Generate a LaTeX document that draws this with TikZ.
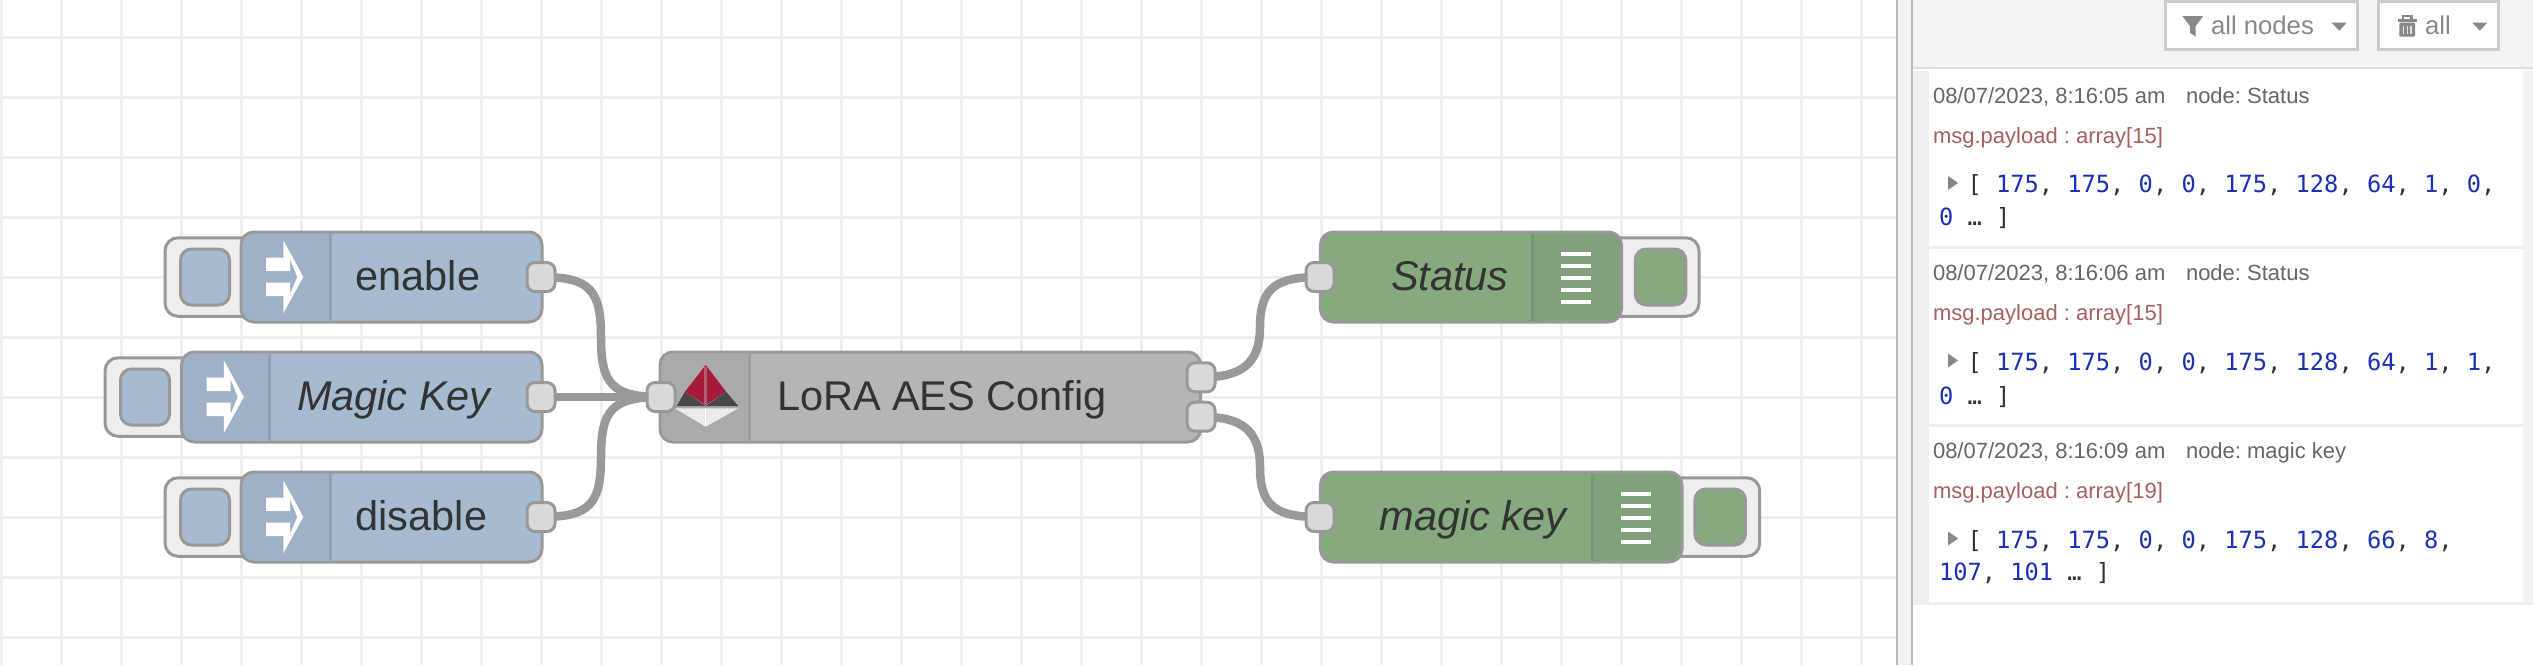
\documentclass[tikz,border=0pt]{standalone}
\usepackage{fontspec}
\setmainfont{Liberation Sans}
\setmonofont{DejaVu Sans Mono}
\frenchspacing
\pgfdeclarelayer{gridlayer}
\pgfdeclarelayer{wirelayer}
\pgfsetlayers{gridlayer,wirelayer,main}
\definecolor{gridc}{HTML}{EEEEEE}
\definecolor{strokec}{HTML}{999999}
\definecolor{portc}{HTML}{D9D9D9}
\definecolor{blueN}{HTML}{A6BBCF}
\definecolor{blueI}{HTML}{9EB1C5}
\definecolor{blueD}{HTML}{8D9FB1}
\definecolor{greenN}{HTML}{87A980}
\definecolor{greenI}{HTML}{81A17A}
\definecolor{greenD}{HTML}{769871}
\definecolor{greyN}{HTML}{B6B4B5}
\definecolor{greyI}{HTML}{ABA9AA}
\definecolor{greyD}{HTML}{9E9C9D}
\definecolor{panelc}{HTML}{F3F3F3}
\definecolor{textc}{HTML}{333333}
\definecolor{metac}{HTML}{666666}
\definecolor{namec}{HTML}{A66060}
\definecolor{numc}{HTML}{1C2FB8}
\definecolor{btnc}{HTML}{888888}
\definecolor{redI}{HTML}{A51A3A}
\tikzset{
  flowbox/.style={draw=strokec,line width=3pt,rounded corners=13pt,inner sep=0pt,outer sep=0pt},
  tabouter/.style={draw=strokec,line width=3pt,fill=gridc,rounded corners=13pt,inner sep=0pt,outer sep=0pt},
  tabinner/.style={draw=strokec,line width=3pt,rounded corners=11pt,inner sep=0pt,outer sep=0pt},
  portbox/.style={draw=strokec,line width=3pt,fill=portc,rounded corners=8pt,minimum width=28pt,minimum height=29pt,inner sep=0pt,outer sep=0pt},
  wire/.style={draw=strokec,line width=8.5pt},
  nlabel/.style={anchor=base west,inner sep=0pt,outer sep=0pt,text=textc,font=\fontsize{41.5}{48}\selectfont},
  ilabel/.style={nlabel,font=\fontsize{41.5}{48}\selectfont\itshape},
  meta/.style={anchor=base west,inner sep=0pt,outer sep=0pt,text=metac,font=\fontsize{22}{26}\selectfont},
  msgname/.style={anchor=base west,inner sep=0pt,outer sep=0pt,text=namec,font=\fontsize{22}{26}\selectfont},
  arr/.style={anchor=base west,inner sep=0pt,outer sep=0pt,text=textc,font=\ttfamily\fontsize{23.7}{28}\selectfont},
  btn/.style={draw=black!20,line width=3pt,fill=white,inner sep=0pt,outer sep=0pt},
  btntext/.style={anchor=base west,inner sep=0pt,outer sep=0pt,text=btnc,font=\fontsize{25.7}{30}\selectfont},
}
% name, x0, x1, yc, fill
\newcommand{\flowbox}[5]{\node[flowbox,fill=#5,minimum width={(#3-#2)*1pt},minimum height=90pt] (#1) at ({(#2+#3)/2},#4) {};}
% icon band at the left: x0, xdiv, yc, fill, divider
\newcommand{\iconleft}[5]{%
  \fill[#4,rounded corners=11.5pt] (#2,#3-43.5) -- (#1+1.5,#3-43.5) -- (#1+1.5,#3+43.5) -- (#2,#3+43.5) -- cycle;
  \fill[#4] (#2-14,#3-43.5) rectangle (#2,#3+43.5);
  \draw[#5,line width=3pt] (#2,#3-43.5) -- (#2,#3+43.5);}
\newcommand{\iconright}[5]{%
  \fill[#4,rounded corners=11.5pt] (#2,#3-43.5) -- (#1-1.5,#3-43.5) -- (#1-1.5,#3+43.5) -- (#2,#3+43.5) -- cycle;
  \fill[#4] (#2,#3-43.5) rectangle (#2+14,#3+43.5);
  \draw[#5,line width=3pt] (#2,#3-43.5) -- (#2,#3+43.5);}
% inject arrow: x0 of the node, yc
\newcommand{\injectarrow}[2]{%
  \fill[white] (#1+42.3,#2-37) -- (#1+62.3,#2) -- (#1+42.3,#2+36.3) -- (#1+42.3,#2+19) -- (#1+25,#2+19)
   -- (#1+25,#2+5.7) -- (#1+49,#2+5.7) -- (#1+49,#2+17.3) -- (#1+56.3,#2) -- (#1+49,#2-18)
   -- (#1+49,#2-6) -- (#1+25,#2-6) -- (#1+25,#2-19.3) -- (#1+42.3,#2-19.3) -- cycle;}
% list icon: xleft, yc
\newcommand{\listicon}[2]{%
  \foreach \dy in {-24,-12,0,12,24} {\fill[white] (#1,#2+\dy-2.1) rectangle (#1+30.4,#2+\dy+2.1);}}
\newcommand{\arrnum}[1]{\textcolor{numc}{#1}}
\begin{document}
\begin{tikzpicture}[x=1pt,y=-1pt]
\useasboundingbox (0,0) rectangle (2533,665);
% canvas grid
\begin{pgfonlayer}{gridlayer}
\fill[white] (0,0) rectangle (2533,665);
\foreach \gx in {0,...,31} {\draw[gridc,line width=3pt] ({1.5+60*\gx},0) -- ({1.5+60*\gx},665);}
\foreach \gy in {0,...,10} {\draw[gridc,line width=3pt] (0,{37+60*\gy}) -- (1896,{37+60*\gy});}
\end{pgfonlayer}
% panel
\fill[white] (1912,0) rectangle (2533,665);
\fill[panelc] (1896.5,0) rectangle (1912,665);
\draw[black!27,line width=2pt] (1896.5,0) -- (1896.5,665);
\draw[black!27,line width=2pt] (1912,0) -- (1912,665);
\fill[panelc] (1913,0) rectangle (2533,67.5);
\draw[black!13,line width=2.5pt] (1913,68) -- (2533,68);
\fill[gridc] (1913,70.5) rectangle (1929,603);
\fill[panelc] (2523,70.5) rectangle (2533,603);
\foreach \sy in {247,425} {\draw[gridc,line width=3pt] (1929,\sy) -- (2523,\sy);}
\draw[gridc,line width=3pt] (1913,603) -- (2533,603);
% toolbar buttons
\node[btn,minimum width=191.5pt,minimum height=48.3pt] (bnodes) at (2261.5,25.8) {};
\node[btn,minimum width=119.3pt,minimum height=48.3pt] (ball) at (2438.6,25.8) {};
\fill[btnc] (2182.3,16) -- (2203.3,16) -- (2195.7,26) -- (2195.7,36.7) -- (2190,32.7) -- (2190,26) -- cycle;
\node[btntext] (tnodes) at (2211,34.3) {all nodes};
\fill[btnc] (2331.7,22.7) -- (2346.7,22.7) -- (2339.2,30.7) -- cycle;
\fill[btnc] (2401.7,15) rectangle (2412.7,18.5);
\fill[white] (2404,16.5) rectangle (2410.4,18.5);
\fill[btnc] (2397.7,18.5) rectangle (2416.7,21.7);
\fill[btnc,rounded corners=1pt] (2399.3,22.7) rectangle (2415,36.7);
\foreach \tx in {2403.5,2407.2,2410.9} {\draw[white!75!btnc,line width=1.2pt] (\tx,25.5) -- (\tx,34);}
\node[btntext] (tall) at (2425,34.3) {all};
\fill[btnc] (2472.3,22.7) -- (2487.3,22.7) -- (2479.8,30.7) -- cycle;
% debug messages
\node[meta] (m1a) at (1933,103) {08/07/2023, 8:16:05 am};
\node[meta] (m1b) at (2186,103) {node: Status};
\node[msgname] (m1c) at (1933,143) {msg.payload : array[15]};
\fill[btnc] (1948,176) -- (1958,183) -- (1948,190) -- cycle;
\node[arr] (m1d) at (1967.5,192) {[ \arrnum{175}, \arrnum{175}, \arrnum{0}, \arrnum{0}, \arrnum{175}, \arrnum{128}, \arrnum{64}, \arrnum{1}, \arrnum{0},};
\node[arr] (m1e) at (1939,225.7) {\arrnum{0} … ]};
\node[meta] (m2a) at (1933,280) {08/07/2023, 8:16:06 am};
\node[meta] (m2b) at (2186,280) {node: Status};
\node[msgname] (m2c) at (1933,320.7) {msg.payload : array[15]};
\fill[btnc] (1948,353.5) -- (1958,360.5) -- (1948,367.5) -- cycle;
\node[arr] (m2d) at (1967.5,370) {[ \arrnum{175}, \arrnum{175}, \arrnum{0}, \arrnum{0}, \arrnum{175}, \arrnum{128}, \arrnum{64}, \arrnum{1}, \arrnum{1},};
\node[arr] (m2e) at (1939,404) {\arrnum{0} … ]};
\node[meta] (m3a) at (1933,458) {08/07/2023, 8:16:09 am};
\node[meta] (m3b) at (2186,458) {node: magic key};
\node[msgname] (m3c) at (1933,498) {msg.payload : array[19]};
\fill[btnc] (1948,531.5) -- (1958,538.5) -- (1948,545.5) -- cycle;
\node[arr] (m3d) at (1967.5,548) {[ \arrnum{175}, \arrnum{175}, \arrnum{0}, \arrnum{0}, \arrnum{175}, \arrnum{128}, \arrnum{66}, \arrnum{8},};
\node[arr] (m3e) at (1939,580.7) {\arrnum{107}, \arrnum{101} … ]};
% inject: enable
\node[tabouter,minimum width=100pt,minimum height=78.5pt] (te) at (215,277) {};
\flowbox{ne}{241}{542}{277}{blueN}
\iconleft{241}{330.4}{277}{blueI}{blueD}
\injectarrow{241}{277}
\node[tabinner,fill=blueN,minimum width=49pt,minimum height=56pt] (ie) at (205,277) {};
\node[nlabel] (le) at (355.6,290) {enable};
\node[portbox] (pe) at (541,277) {};
% inject: Magic Key
\node[tabouter,minimum width=100pt,minimum height=78.5pt] (tk) at (155,397) {};
\flowbox{nk}{181.5}{542}{397}{blueN}
\iconleft{181.5}{269.5}{397}{blueI}{blueD}
\injectarrow{181.5}{397}
\node[tabinner,fill=blueN,minimum width=49pt,minimum height=56pt] (ik) at (145,397) {};
\node[ilabel] (lk) at (297,410) {Magic Key};
\node[portbox] (pk) at (541,397) {};
% inject: disable
\node[tabouter,minimum width=100pt,minimum height=78.5pt] (td) at (215,517) {};
\flowbox{nd}{241}{542}{517}{blueN}
\iconleft{241}{330.4}{517}{blueI}{blueD}
\injectarrow{241}{517}
\node[tabinner,fill=blueN,minimum width=49pt,minimum height=56pt] (id) at (205,517) {};
\node[nlabel] (ld) at (355.6,530) {disable};
\node[portbox] (pd) at (541,517) {};
% LoRA node
\flowbox{nl}{660}{1200.7}{397}{greyN}
\iconleft{660}{749.8}{397}{greyI}{greyD}
\fill[redI] (705.7,365) -- (726,391.7) -- (705.7,405) -- (685,391.7) -- cycle;
\draw[redI!55!greyN,line width=3pt] (705.7,367) -- (705.7,404);
\fill[black!72] (685,391.7) -- (705.7,406) -- (676.7,406) -- cycle;
\fill[black!72] (726,391.7) -- (738.3,406) -- (705.7,406) -- cycle;
\fill[black!8] (675,408.3) -- (738.3,408.3) -- (705.7,426.7) -- cycle;
\draw[white,line width=1.5pt] (705.7,408.3) -- (705.7,426);
\node[nlabel] (ll) at (777,410) {LoRA AES Config};
\node[portbox] (pl) at (661,397) {};
\node[portbox] (po) at (1201,377.3) {};
\node[portbox] (pq) at (1201,416.7) {};
% debug: Status
\node[tabouter,minimum width=100pt,minimum height=78.5pt] (ts) at (1649,277) {};
\flowbox{ns}{1320.4}{1621.5}{277}{greenN}
\iconright{1621.5}{1532}{277}{greenI}{greenD}
\listicon{1560.7}{277.7}
\node[tabinner,fill=greenN,minimum width=50.5pt,minimum height=56pt] (is) at (1660.5,277) {};
\node[ilabel] (ls) at (1391,290) {Status};
\node[portbox] (ps) at (1320,277) {};
% debug: magic key
\node[tabouter,minimum width=100pt,minimum height=78.5pt] (tm) at (1709.7,517) {};
\flowbox{nm}{1320.4}{1682}{517}{greenN}
\iconright{1682}{1592}{517}{greenI}{greenD}
\listicon{1621}{517.7}
\node[tabinner,fill=greenN,minimum width=50.5pt,minimum height=56pt] (im) at (1720.2,517) {};
\node[ilabel] (lm) at (1379.7,530) {magic key};
\node[portbox] (pm) at (1320,517) {};
% wires
\begin{pgfonlayer}{wirelayer}
\coordinate (w1) at (601,337);
\coordinate (w2) at (601,457);
\coordinate (w3) at (1260,327);
\coordinate (w4) at (1260,467);
\draw[wire] (pe.center) .. controls +(49,0) and +(0,-47) .. (w1) .. controls +(0,47) and +(-49,0) .. (pl.center);
\draw[wire] (pd.center) .. controls +(49,0) and +(0,47) .. (w2) .. controls +(0,-47) and +(-49,0) .. (pl.center);
\draw[wire] (pk.center) -- (pl.center);
\draw[wire] (po.center) .. controls +(39,0) and +(0,38) .. (w3) .. controls +(0,-41) and +(-42,0) .. (ps.center);
\draw[wire] (pq.center) .. controls +(39,0) and +(0,-38) .. (w4) .. controls +(0,41) and +(-42,0) .. (pm.center);
\end{pgfonlayer}
\end{tikzpicture}
\end{document}
